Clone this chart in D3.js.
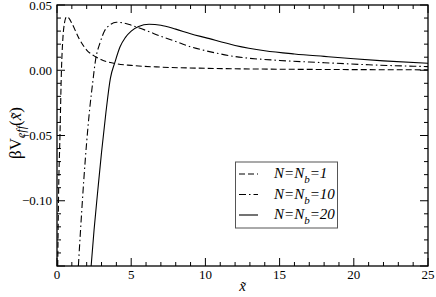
<!DOCTYPE html>
<html><head><meta charset="utf-8">
<script src="https://cdn.jsdelivr.net/npm/d3@7"></script>
<style>body{margin:0;background:#fff}svg{display:block}</style>
</head><body><svg id="c" width="436" height="297"></svg>
<script>
const xTicks = [0,5,10,15,20,25];
const yTicks = [-0.10,-0.05,0.00,0.05];
const seriesNames = ["N=N_b=1","N=N_b=10","N=N_b=20"];
const x1 = [0.05,0.1,0.2,0.3,0.4,0.5,0.65,0.8,1.0,1.5,2.0,2.5,3,4,5,7,10,15,20,25];
const y1 = [-0.15,-0.10,-0.05,0.0,0.025,0.036,0.041,0.040,0.036,0.024,0.0155,0.011,0.008,0.005,0.0037,0.0024,0.0015,0.0008,0.0005,0.0003];
const x10 = [1.44,1.6,1.8,2.0,2.2,2.4,2.6,2.9,3.2,3.6,4.0,4.5,5.0,6.0,7.0,8.0,9.0,10,12,15,18,21,25];
const y10 = [-0.15,-0.12,-0.085,-0.055,-0.03,-0.01,0.008,0.021,0.030,0.035,0.0368,0.0362,0.0345,0.0305,0.026,0.022,0.0180,0.0150,0.0105,0.0075,0.0058,0.0042,0.0028];
const x20 = [2.3,2.5,2.75,3.0,3.3,3.6,3.9,4.25,4.6,5.0,5.5,6.2,7.0,8.0,9.0,10,12,14,16,18,20,22,25];
const y20 = [-0.15,-0.122,-0.092,-0.063,-0.032,-0.006,0.006,0.018,0.025,0.0300,0.0335,0.0352,0.0345,0.0315,0.0280,0.0250,0.0190,0.0150,0.0125,0.0106,0.0088,0.0072,0.0053];

const FONT = "Liberation Serif";
const svg = d3.select("#c");
const L=57,R=428,T=5,B=266;
const x = d3.scaleLinear().domain([0,25]).range([L,R]);
const y = d3.scaleLinear().domain([-0.15,0.05]).range([B,T]);

const defs = svg.append("defs");
defs.append("clipPath").attr("id","clip").append("rect").attr("x",L).attr("y",T).attr("width",R-L).attr("height",B-T);

const styles = [
  {dash:"6,3"},
  {dash:"7,3,1.5,3"},
  {dash:null}
];
const data = [[x1,y1],[x10,y10],[x20,y20]];
const line = d3.line().x(d=>x(d[0])).y(d=>y(d[1])).curve(d3.curveMonotoneX);
const g = svg.append("g").attr("clip-path","url(#clip)");
data.forEach((s,i)=>{
  const pts = s[0].map((v,j)=>[v,s[1][j]]);
  g.append("path").attr("d",line(pts)).attr("fill","none").attr("stroke","#000")
   .attr("stroke-width",1.1).attr("stroke-dasharray",styles[i].dash);
});

const major=8, minor=4;
const ax = svg.append("g").attr("stroke","#000").attr("stroke-width",1);
d3.range(0,26,1).forEach(v=>{
  const len = v%5===0?major:minor;
  ax.append("line").attr("x1",x(v)).attr("x2",x(v)).attr("y1",B).attr("y2",B-len);
  ax.append("line").attr("x1",x(v)).attr("x2",x(v)).attr("y1",T).attr("y2",T+len);
});
d3.range(-15,6,1).forEach(k=>{
  const v=k/100;
  const len = k%5===0?major:minor;
  ax.append("line").attr("x1",L).attr("x2",L+len).attr("y1",y(v)).attr("y2",y(v));
  ax.append("line").attr("x1",R).attr("x2",R-len).attr("y1",y(v)).attr("y2",y(v));
});
svg.append("rect").attr("x",L).attr("y",T).attr("width",R-L).attr("height",B-T)
  .attr("fill","none").attr("stroke","#000").attr("stroke-width",1.3);

svg.append("g").selectAll("text").data(xTicks).join("text").attr("font-family",FONT)
  .attr("x",d=>x(d)).attr("y",B+13).attr("text-anchor","middle").attr("font-size",13).text(d=>d);
svg.append("g").selectAll("text").data(yTicks).join("text").attr("font-family",FONT)
  .attr("x",L-5).attr("y",d=>y(d)+4.5).attr("text-anchor","end").attr("font-size",13).text(d=>d3.format(".2f")(d));

svg.append("text").attr("font-family",FONT).attr("x",x(12.5)).attr("y",291).attr("text-anchor","middle").attr("font-size",15)
  .attr("font-style","italic").text("x\u0303");

const yl = svg.append("text").attr("font-family",FONT).attr("transform","translate(21,133) rotate(-90)").attr("text-anchor","middle").attr("font-size",17);
yl.append("tspan").text("βV");
yl.append("tspan").attr("font-style","italic").attr("font-size",12).attr("dy",4).text("eff");
yl.append("tspan").attr("dy",-4).text("(");
yl.append("tspan").attr("font-style","italic").text("x\u0303");
yl.append("tspan").text(")");

const lg = svg.append("g");
lg.append("rect").attr("x",235.5).attr("y",162).attr("width",102).attr("height",66)
  .attr("fill","#fff").attr("stroke","#555").attr("stroke-width",1);
seriesNames.forEach((n,i)=>{
  const yy = 174 + i*20.5;
  lg.append("line").attr("x1",239).attr("x2",258).attr("y1",yy).attr("y2",yy)
    .attr("stroke","#000").attr("stroke-width",1.1).attr("stroke-dasharray",styles[i].dash);
  const t = lg.append("text").attr("font-family",FONT).attr("x",274).attr("y",yy+4).attr("font-size",15).attr("font-style","italic");
  const parts = n.split("_b");
  t.append("tspan").text(parts[0]);
  t.append("tspan").attr("font-size",11).attr("dy",5).text("b");
  t.append("tspan").attr("dy",-5).text(parts[1]);
});
</script></body></html>
